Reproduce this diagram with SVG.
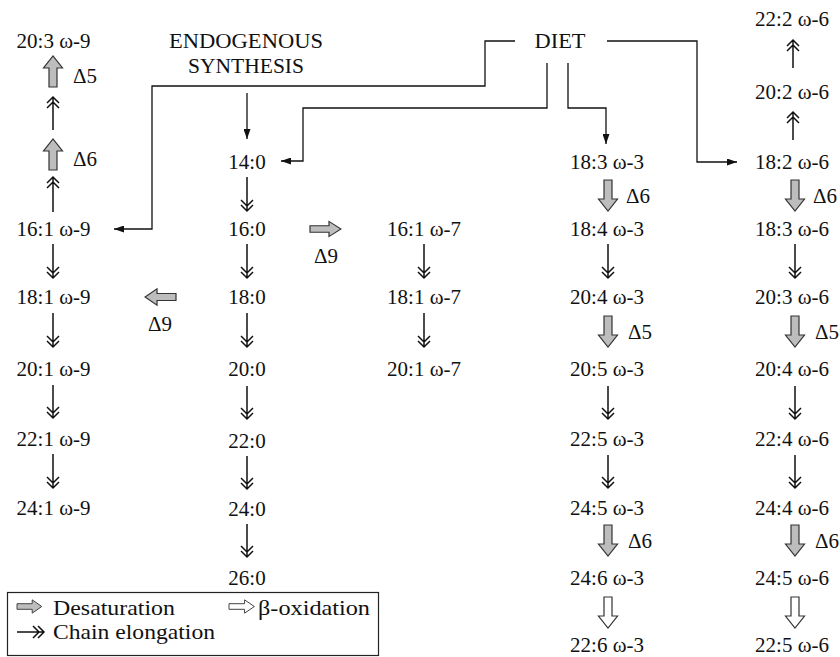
<svg xmlns="http://www.w3.org/2000/svg" xmlns:xlink="http://www.w3.org/1999/xlink" width="840" height="657" viewBox="0 0 840 657">
<style>
.t{font-family:"Liberation Serif","DejaVu Serif",serif;font-size:21px;fill:#111;text-anchor:middle}
.s{text-anchor:start}
.c{fill:none;stroke:#111;stroke-width:1.3}
.el{fill:none;stroke:#111;stroke-width:1.5}
.g{fill:#bdbdbd;stroke:#333;stroke-width:1.2;stroke-linejoin:miter}
.w{fill:#fff;stroke:#333;stroke-width:1.2}
</style>
<defs>
<marker id="ah" markerUnits="userSpaceOnUse" markerWidth="10" markerHeight="7" refX="10" refY="3.5" orient="auto"><path d="M0,0 L10,3.5 L0,7 Z" fill="#111"/></marker>
<path id="gD" d="M-4,0 H4 V19 H9.5 L0,31 L-9.5,19 H-4 Z"/>
</defs>
<rect width="840" height="657" fill="#fff"/>

<g id="connectors">
<path class="c" d="M515,41 H485 V86 H152 V229 H114" marker-end="url(#ah)"/>
<path class="c" d="M547,63 V108 H303 V161 H281" marker-end="url(#ah)"/>
<path class="c" d="M568,63 V108 H606 V144" marker-end="url(#ah)"/>
<path class="c" d="M607,41 H697 V162 H737" marker-end="url(#ah)"/>
<path class="c" d="M247,93 V139" marker-end="url(#ah)"/>
<!-- chain elongation, down -->
<path class="el" d="M53,244 V278 M47,267 L53,273 L59,267 M47,272 L53,278 L59,272"/>
<path class="el" d="M53,313 V347 M47,336 L53,342 L59,336 M47,341 L53,347 L59,341"/>
<path class="el" d="M53,385 V418 M47,407 L53,413 L59,407 M47,412 L53,418 L59,412"/>
<path class="el" d="M53,454 V488 M47,477 L53,483 L59,477 M47,482 L53,488 L59,482"/>
<path class="el" d="M247,177 V211 M241,200 L247,206 L253,200 M241,205 L247,211 L253,205"/>
<path class="el" d="M247,244 V278 M241,267 L247,273 L253,267 M241,272 L247,278 L253,272"/>
<path class="el" d="M247,313 V347 M241,336 L247,342 L253,336 M241,341 L247,347 L253,341"/>
<path class="el" d="M247,386 V419 M241,408 L247,414 L253,408 M241,413 L247,419 L253,413"/>
<path class="el" d="M247,456 V489 M241,478 L247,484 L253,478 M241,483 L247,489 L253,483"/>
<path class="el" d="M247,524 V557 M241,546 L247,552 L253,546 M241,551 L247,557 L253,551"/>
<path class="el" d="M424,244 V278 M418,267 L424,273 L430,267 M418,272 L424,278 L430,272"/>
<path class="el" d="M424,313 V347 M418,336 L424,342 L430,336 M418,341 L424,347 L430,341"/>
<path class="el" d="M608,244 V278 M602,267 L608,273 L614,267 M602,272 L608,278 L614,272"/>
<path class="el" d="M608,386 V419 M602,408 L608,414 L614,408 M602,413 L608,419 L614,413"/>
<path class="el" d="M608,455 V488 M602,477 L608,483 L614,477 M602,482 L608,488 L614,482"/>
<path class="el" d="M795,244 V278 M789,267 L795,273 L801,267 M789,272 L795,278 L801,272"/>
<path class="el" d="M795,386 V419 M789,408 L795,414 L801,408 M789,413 L795,419 L801,413"/>
<path class="el" d="M795,455 V488 M789,477 L795,483 L801,477 M789,482 L795,488 L801,482"/>
<!-- chain elongation, up -->
<path class="el" d="M53,130 V97 M47,108 L53,102 L59,108 M47,103 L53,97 L59,103"/>
<path class="el" d="M53,212 V177 M47,188 L53,182 L59,188 M47,183 L53,177 L59,183"/>
<path class="el" d="M793,68 V40 M787,51 L793,45 L799,51 M787,46 L793,40 L799,46"/>
<path class="el" d="M793,140 V112 M787,123 L793,117 L799,123 M787,118 L793,112 L799,118"/>
<!-- desaturation -->
<use xlink:href="#gD" class="g" transform="translate(53,87) rotate(180)"/>
<use xlink:href="#gD" class="g" transform="translate(53,170) rotate(180)"/>
<use xlink:href="#gD" class="g" transform="translate(310,229) rotate(-90) scale(0.8,1)"/>
<use xlink:href="#gD" class="g" transform="translate(176,297) rotate(90) scale(0.85,1)"/>
<use xlink:href="#gD" class="g" transform="translate(608,180)"/>
<use xlink:href="#gD" class="g" transform="translate(608,316)"/>
<use xlink:href="#gD" class="g" transform="translate(608,525)"/>
<use xlink:href="#gD" class="g" transform="translate(795,180)"/>
<use xlink:href="#gD" class="g" transform="translate(795,316)"/>
<use xlink:href="#gD" class="g" transform="translate(795,525)"/>
<!-- beta-oxidation -->
<use xlink:href="#gD" class="w" transform="translate(608,597)"/>
<use xlink:href="#gD" class="w" transform="translate(795,597)"/>
</g>

<g id="labels">
<text class="t" x="246" y="48" textLength="154" lengthAdjust="spacingAndGlyphs">ENDOGENOUS</text>
<text class="t" x="246" y="73" textLength="116" lengthAdjust="spacingAndGlyphs">SYNTHESIS</text>
<text class="t" x="560" y="48" textLength="51" lengthAdjust="spacingAndGlyphs">DIET</text>
<text class="t s" x="73" y="83">Δ5</text>
<text class="t s" x="73" y="166">Δ6</text>
<text class="t" x="326" y="263">Δ9</text>
<text class="t" x="160" y="331">Δ9</text>
<text class="t s" x="626" y="203">Δ6</text>
<text class="t s" x="628" y="339">Δ5</text>
<text class="t s" x="628" y="548">Δ6</text>
<text class="t s" x="813" y="203">Δ6</text>
<text class="t s" x="815" y="339">Δ5</text>
<text class="t s" x="815" y="548">Δ6</text>
</g>

<g id="omega9">
<text class="t" x="53.5" y="48">20:3 ω-9</text>
<text class="t" x="53.5" y="236">16:1 ω-9</text>
<text class="t" x="53.5" y="304">18:1 ω-9</text>
<text class="t" x="53.5" y="376">20:1 ω-9</text>
<text class="t" x="53.5" y="446">22:1 ω-9</text>
<text class="t" x="53.5" y="515">24:1 ω-9</text>
</g>
<g id="saturated">
<text class="t" x="247" y="169">14:0</text>
<text class="t" x="247" y="236">16:0</text>
<text class="t" x="247" y="304">18:0</text>
<text class="t" x="247" y="376">20:0</text>
<text class="t" x="247" y="448">22:0</text>
<text class="t" x="247" y="516">24:0</text>
<text class="t" x="247" y="585">26:0</text>
</g>
<g id="omega7">
<text class="t" x="424" y="236">16:1 ω-7</text>
<text class="t" x="424" y="304">18:1 ω-7</text>
<text class="t" x="424" y="376">20:1 ω-7</text>
</g>
<g id="omega3">
<text class="t" x="607" y="169">18:3 ω-3</text>
<text class="t" x="607" y="236">18:4 ω-3</text>
<text class="t" x="607" y="304">20:4 ω-3</text>
<text class="t" x="607" y="376">20:5 ω-3</text>
<text class="t" x="607" y="446">22:5 ω-3</text>
<text class="t" x="607" y="515">24:5 ω-3</text>
<text class="t" x="607" y="585">24:6 ω-3</text>
<text class="t" x="607" y="651.5">22:6 ω-3</text>
</g>
<g id="omega6">
<text class="t" x="792" y="26">22:2 ω-6</text>
<text class="t" x="792" y="99">20:2 ω-6</text>
<text class="t" x="792" y="169">18:2 ω-6</text>
<text class="t" x="792" y="236">18:3 ω-6</text>
<text class="t" x="792" y="304">20:3 ω-6</text>
<text class="t" x="792" y="376">20:4 ω-6</text>
<text class="t" x="792" y="446">22:4 ω-6</text>
<text class="t" x="792" y="515">24:4 ω-6</text>
<text class="t" x="792" y="585">24:5 ω-6</text>
<text class="t" x="792" y="651.5">22:5 ω-6</text>
</g>

<g id="legend">
<rect x="7.5" y="592.5" width="371" height="63" fill="none" stroke="#222" stroke-width="1.2"/>
<use xlink:href="#gD" class="g" transform="translate(17,606.5) rotate(-90) scale(0.7,0.8)"/>
<text class="t s" x="53" y="615" textLength="122" lengthAdjust="spacingAndGlyphs">Desaturation</text>
<use xlink:href="#gD" class="w" transform="translate(229,606.5) rotate(-90) scale(0.7,0.82)"/>
<text class="t s" x="258" y="615" textLength="112" lengthAdjust="spacingAndGlyphs">β-oxidation</text>
<path class="el" d="M17,632 H44 M33,626 L39,632 L33,638 M38,626 L44,632 L38,638"/>
<text class="t s" x="53" y="639" textLength="162" lengthAdjust="spacingAndGlyphs">Chain elongation</text>
</g>
</svg>
